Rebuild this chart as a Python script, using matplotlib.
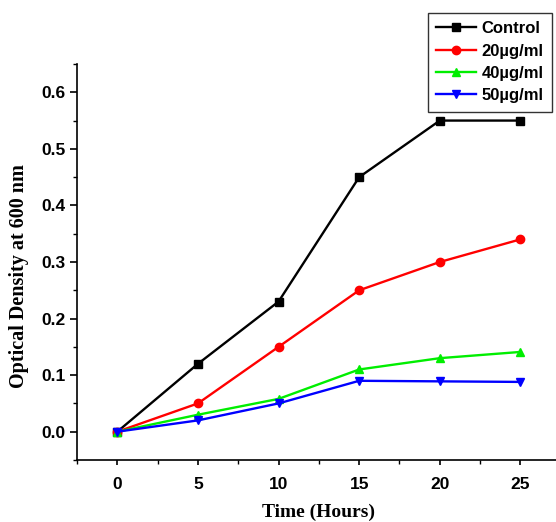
import matplotlib
matplotlib.use("Agg")
import matplotlib.pyplot as plt
from matplotlib.ticker import MultipleLocator

time_h = [0, 5, 10, 15, 20, 25]
control = [0.0, 0.12, 0.23, 0.45, 0.55, 0.55]
c20 = [0.0, 0.05, 0.15, 0.25, 0.30, 0.34]
c40 = [0.0, 0.03, 0.058, 0.11, 0.13, 0.141]
c50 = [0.0, 0.02, 0.05, 0.09, 0.089, 0.088]
labels = ["Control", "20\u00b5g/ml", "40\u00b5g/ml", "50\u00b5g/ml"]

fig = plt.figure(figsize=(5.56, 5.22), dpi=100)
ax = fig.add_axes([0.1385, 0.1188, 0.870, 0.7586])

series = [control, c20, c40, c50]
colors = ["black", "red", "#00ee00", "blue"]
markers = ["s", "o", "^", "v"]
for s, c, m, l in zip(series, colors, markers, labels):
    ax.plot(time_h, s, color=c, marker=m, markersize=6, lw=1.7, label=l)

ax.set_xlim(-2.5, 27.5)
ax.set_ylim(-0.05, 0.65)
ax.xaxis.set_major_locator(MultipleLocator(5))
ax.xaxis.set_minor_locator(MultipleLocator(2.5))
ax.yaxis.set_minor_locator(MultipleLocator(0.05))
ax.set_yticks([0, 0.1, 0.2, 0.3, 0.4, 0.5, 0.6])
ax.set_yticklabels(["0.0", "0.1", "0.2", "0.3", "0.4", "0.5", "0.6"])
for sp in ["top", "right"]:
    ax.spines[sp].set_visible(False)
ax.spines["left"].set_linewidth(1.2)
ax.spines["bottom"].set_linewidth(1.2)
ax.tick_params(axis="y", which="major", direction="out", length=5, width=1.2, pad=3)
ax.tick_params(axis="y", which="minor", direction="out", length=3, width=1.0)
ax.tick_params(axis="x", which="major", direction="out", length=3.5, width=1.2, pad=9)
ax.tick_params(axis="x", which="minor", direction="out", length=3, width=1.0)
for t in ax.get_xticklabels() + ax.get_yticklabels():
    t.set_fontfamily("Liberation Sans")
    t.set_fontweight("bold")
    t.set_fontsize(12.5)

ax.set_xlabel("Time (Hours)", fontfamily="Liberation Serif", fontweight="bold", fontsize=14, labelpad=8)
ax.set_ylabel("Optical Density at 600 nm", fontfamily="Liberation Serif", fontweight="bold", fontsize=14.5, labelpad=9)
ax.yaxis.label.set_y(0.465)

leg = fig.legend(loc="upper left", bbox_to_anchor=(428/556, 1 - 13/522), frameon=True, fancybox=False,
                 prop={"family": "Liberation Sans", "weight": "bold", "size": 12},
                 handlelength=2.4, handletextpad=0.3, borderpad=0.5, labelspacing=0.44,
                 borderaxespad=0)
leg.get_frame().set_edgecolor("black")
leg.get_frame().set_linewidth(1.0)

fig.savefig("out.png", dpi=100)
